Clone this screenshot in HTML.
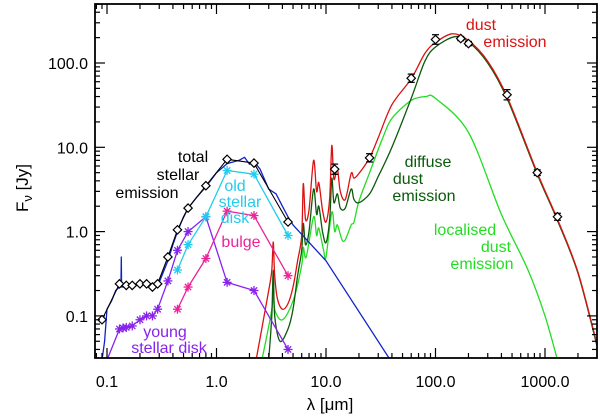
<!DOCTYPE html>
<html><head><meta charset="utf-8"><style>
html,body{margin:0;padding:0;background:#fff;}
svg{display:block;}
text{font-family:"Liberation Sans",sans-serif;}
</style></head><body>
<svg id="chart" width="600" height="416" viewBox="0 0 600 416" xmlns="http://www.w3.org/2000/svg">
<g id="plot"></g>
<g id="axes"></g>
<g id="labels"></g>
</svg>
<script>
// ---- data (lambda in micron, flux in Jy) ----
const obsStellarL = [0.09,0.13,0.15,0.17,0.2,0.23,0.26,0.29,0.36,0.44,0.55,0.8,1.25,2.2,4.5];
const obsStellarF = [0.09,0.24,0.23,0.23,0.24,0.24,0.22,0.24,0.5,1.05,1.9,3.5,7.2,6.5,1.3];
const obsDustL = [12,25,60,100,170,200,450,850,1300];
const obsDustF = [5.5,7.5,66,190,195,170,42,5,1.5];
const obsDustErr = [0.15,0.12,0.12,0.14,0.06,0.06,0.15,0.08,0.1];

const blueL = [0.09,0.095,0.1,0.11,0.12,0.13,0.134,0.135,0.136,0.15,0.2,0.28,0.3,0.36,0.4,0.44,0.5,0.55,0.65,0.8,1.0,1.25,1.6,1.8,2.0,2.2,2.5,3.0,3.5,4.0,4.5,5,10,40];
const blueF = [0.03,0.05,0.12,0.15,0.2,0.22,0.22,0.5,0.22,0.22,0.24,0.22,0.25,0.45,0.7,1.0,1.5,1.9,2.5,3.4,5,6.4,7.0,7.6,6.3,6.8,5.5,3.2,2.8,2.0,1.5,1.2,0.45,0.028];

const oldL = [0.44,0.55,0.8,1.25,2.2,4.5];
const oldF = [0.35,0.7,1.5,5.3,4.8,0.9];
const bulgeL = [0.44,0.55,0.8,1.25,2.2,4.5];
const bulgeF = [0.12,0.22,0.48,1.75,1.55,0.3];
const youngL = [0.1,0.13,0.14,0.15,0.17,0.2,0.23,0.26,0.29,0.36,0.44,0.55,0.8,1.25,2.2,4.5];
const youngF = [0.03,0.07,0.072,0.073,0.076,0.09,0.1,0.1,0.12,0.26,0.6,1.0,1.5,0.25,0.2,0.04];

const redL = [2.3,3.0,3.2,3.3,3.4,3.6,4.0,4.5,5.0,5.5,6.0,6.2,6.5,7.0,7.7,8.2,8.6,9.3,10,10.8,11.3,11.8,12.7,13.5,15,17,18,20,25,30,40,60,80,100,142,200,300,450,850,1300,2000,3000];
const redF = [0.03,0.2,0.35,0.75,0.3,0.16,0.12,0.14,0.22,0.45,0.9,3.7,1.4,1.8,7,3,3.8,1.8,1.3,2.5,10.5,4.2,5.5,3,2.4,4.9,4.3,4.9,7.5,13,32,65,130,175,222,185,105,40,5,1.4,0.33,0.045];
const dgreenL = [3.0,3.2,3.3,3.4,3.8,4.5,5.0,5.5,6.0,6.2,6.5,7.0,7.7,8.2,8.6,9.3,10,10.8,11.3,11.8,12.7,13.5,15,17,18,20,25,30,40,60,80,100,150,200,300,450,850,1300,2000,3000];
const dgreenF = [0.03,0.1,0.35,0.1,0.05,0.07,0.12,0.3,0.6,1.25,0.7,1.0,3.2,1.6,2.0,1.0,0.74,1.4,4.3,2.2,2.8,1.9,1.9,3.2,2.4,2.2,2.8,4.5,10,38,105,155,205,178,100,38,4.8,1.35,0.32,0.043];
const lgreenL = [2.6,3.2,3.3,3.4,4.0,5.0,6.0,6.2,6.6,7.7,8.2,8.6,9.5,10,11.3,12,12.7,14,15,17,18,20,25,33,40,60,82,100,200,400,700,1000,1300];
const lgreenF = [0.03,0.12,0.25,0.12,0.09,0.15,0.4,0.65,0.5,1.5,0.9,1.1,0.6,0.5,1.7,1.0,1.2,0.8,0.8,1.2,1.3,2.3,5,13,22,36,40,38,15,1.6,0.35,0.1,0.03];

const xTickVals = [0.1,1,10,100,1000];
const xTickLabels = ["0.1","1.0","10.0","100.0","1000.0"];
const yTickVals = [0.1,1,10,100];
const yTickLabels = ["0.1","1.0","10.0","100.0"];

// ---- scales ----
const X0=95, X1=597, Y0=4, Y1=358;
const LXMIN=Math.log10(0.1)-(107-X0)/109.5, LXMAX=LXMIN+(X1-X0)/109.5;
const LYMAX=2+(63-Y0)/84.3, LYMIN=LYMAX-(Y1-Y0)/84.3;
function sx(l){return X0+(Math.log10(l)-LXMIN)/(LXMAX-LXMIN)*(X1-X0);}
function sy(f){return Y1-(Math.log10(f)-LYMIN)/(LYMAX-LYMIN)*(Y1-Y0);}

const NS="http://www.w3.org/2000/svg";
function mk(tag,attrs,parent){const e=document.createElementNS(NS,tag);for(const k in attrs)e.setAttribute(k,attrs[k]);parent.appendChild(e);return e;}
const plot=document.getElementById('plot');
const axes=document.getElementById('axes');
const labels=document.getElementById('labels');

const defs=mk('defs',{},plot);
const cp=mk('clipPath',{id:'clip'},defs);
mk('rect',{x:X0,y:Y0,width:X1-X0,height:Y1-Y0},cp);
const g=mk('g',{'clip-path':'url(#clip)'},plot);

function line(L,F,color,name,w){
  const pts=L.map((l,i)=>sx(l).toFixed(1)+','+sy(F[i]).toFixed(1)).join(' ');
  const p=mk('polyline',{points:pts,fill:'none',stroke:color,'stroke-width':w||1.3,'stroke-linejoin':'round'},g);
  
  
  return p;
}
function smooth(L,F,color,name){
  const P=L.map((l,i)=>[sx(l),sy(F[i])]);
  let d='M'+P[0][0].toFixed(1)+','+P[0][1].toFixed(1);
  for(let i=0;i<P.length-1;i++){
    const p0=P[Math.max(0,i-1)],p1=P[i],p2=P[i+1],p3=P[Math.min(P.length-1,i+2)];
    const t=0.16;
    const c1=[p1[0]+(p2[0]-p0[0])*t,p1[1]+(p2[1]-p0[1])*t];
    const c2=[p2[0]-(p3[0]-p1[0])*t,p2[1]-(p3[1]-p1[1])*t];
    d+=` C${c1[0].toFixed(1)},${c1[1].toFixed(1)} ${c2[0].toFixed(1)},${c2[1].toFixed(1)} ${p2[0].toFixed(1)},${p2[1].toFixed(1)}`;
  }
  const p=mk('path',{d:d,fill:'none',stroke:color,'stroke-width':1.3},g);
  
  
}
function star(x,y,color,name){
  const s=mk('g',{stroke:color,'stroke-width':1.3},g);
  
  
  const r=4.5;
  mk('line',{x1:x-r,y1:y,x2:x+r,y2:y},s);
  mk('line',{x1:x,y1:y-r,x2:x,y2:y+r},s);
  mk('line',{x1:x-r*0.7,y1:y-r*0.7,x2:x+r*0.7,y2:y+r*0.7},s);
  mk('line',{x1:x-r*0.7,y1:y+r*0.7,x2:x+r*0.7,y2:y-r*0.7},s);
}
function diamond(x,y,name){
  const r=4.2;
  const d=mk('polygon',{points:`${x},${y-r} ${x+r},${y} ${x},${y+r} ${x-r},${y}`,fill:'#fff',stroke:'#000','stroke-width':1.2},g);
  
  
}

smooth(lgreenL,lgreenF,'#22dd22','localised-dust-line');
smooth(dgreenL,dgreenF,'#0a5a0a','diffuse-dust-line');
smooth(redL,redF,'#dd1111','dust-emission-line');
line(youngL,youngF,'#8822ee','young-stellar-disk-line');
youngL.forEach((l,i)=>{if(i>0)star(sx(l),sy(youngF[i]),'#8822ee','young-disk-point');});
line(bulgeL,bulgeF,'#ee2299','bulge-line');
bulgeL.forEach((l,i)=>star(sx(l),sy(bulgeF[i]),'#ee2299','bulge-point'));
line(oldL,oldF,'#22ccee','old-stellar-disk-line');
oldL.forEach((l,i)=>star(sx(l),sy(oldF[i]),'#22ccee','old-disk-point'));
line(blueL,blueF,'#1122cc','stellar-model-line');
line(obsStellarL,obsStellarF,'#000','total-stellar-line',1.1);
obsStellarL.forEach((l,i)=>diamond(sx(l),sy(obsStellarF[i]),'stellar-observation'));
obsDustL.forEach((l,i)=>{
  const x=sx(l),f=obsDustF[i],e=obsDustErr[i];
  const yt=sy(f*(1+e)),yb=sy(f/(1+e));
  const eb=mk('g',{stroke:'#000','stroke-width':1.2},g);
  
  
  mk('line',{x1:x,y1:yt,x2:x,y2:yb},eb);
  mk('line',{x1:x-3.5,y1:yt,x2:x+3.5,y2:yt},eb);
  mk('line',{x1:x-3.5,y1:yb,x2:x+3.5,y2:yb},eb);
  diamond(x,sy(f),'dust-observation');
});

const fr=mk('rect',{x:X0,y:Y0,width:X1-X0,height:Y1-Y0,fill:'none',stroke:'#000','stroke-width':1.8},axes);


for(let d=-2;d<=4;d++){for(let m=1;m<=9;m++){
  const v=m*Math.pow(10,d);const lv=Math.log10(v);
  if(lv<LXMIN||lv>LXMAX)continue;const x=sx(v);const len=m==1?10:5;
  mk('line',{x1:x,y1:Y1,x2:x,y2:Y1-len,stroke:'#000','stroke-width':1.2},axes);
  mk('line',{x1:x,y1:Y0,x2:x,y2:Y0+len,stroke:'#000','stroke-width':1.2},axes);
}}
for(let d=-3;d<=3;d++){for(let m=1;m<=9;m++){
  const v=m*Math.pow(10,d);const lv=Math.log10(v);
  if(lv<LYMIN||lv>LYMAX)continue;const y=sy(v);const len=m==1?10:5;
  mk('line',{x1:X0,y1:y,x2:X0+len,y2:y,stroke:'#000','stroke-width':1.2},axes);
  mk('line',{x1:X1,y1:y,x2:X1-len,y2:y,stroke:'#000','stroke-width':1.2},axes);
}}
xTickVals.forEach((v,i)=>{
  const t=mk('text',{x:sx(v),y:387,'text-anchor':'middle','font-size':16,fill:'#000'},axes);
  t.textContent=xTickLabels[i];
  
  
});
yTickVals.forEach((v,i)=>{
  const t=mk('text',{x:88,y:sy(v)+6,'text-anchor':'end','font-size':16,fill:'#000'},axes);
  t.textContent=yTickLabels[i];
  
  
});

const ann=[
 ["total",193,162,'#000'],["stellar",178,180,'#000'],["emission",147,198,'#000'],
 ["old",235,191,'#22ccee'],["stellar",240,207,'#22ccee'],["disk",235,223,'#22ccee'],
 ["bulge",241,247,'#ee2299'],
 ["young",165,337,'#8822ee'],["stellar disk",169,353,'#8822ee'],
 ["dust",481,30,'#dd1111'],["emission",515,47,'#dd1111'],
 ["diffuse",428,167,'#0a5a0a'],["dust",408,184,'#0a5a0a'],["emission",424,201,'#0a5a0a'],
 ["localised",465,235,'#22dd22'],["dust",496,252,'#22dd22'],["emission",482,269,'#22dd22']
];
ann.forEach(a=>{
  const t=mk('text',{x:a[1],y:a[2],'text-anchor':'middle','font-size':16,fill:a[3]},labels);
  t.textContent=a[0];
  
  
});
const xt=mk('text',{x:330,y:410,'text-anchor':'middle','font-size':17,fill:'#000'},labels);
xt.textContent='λ [μm]';


const yt=mk('text',{x:0,y:0,'text-anchor':'middle','font-size':17,fill:'#000',transform:'translate(28,188) rotate(-90)'},labels);
yt.innerHTML='F<tspan font-size="13" dy="4">ν</tspan><tspan dy="-4"> [Jy]</tspan>';


</script>
</body></html>
